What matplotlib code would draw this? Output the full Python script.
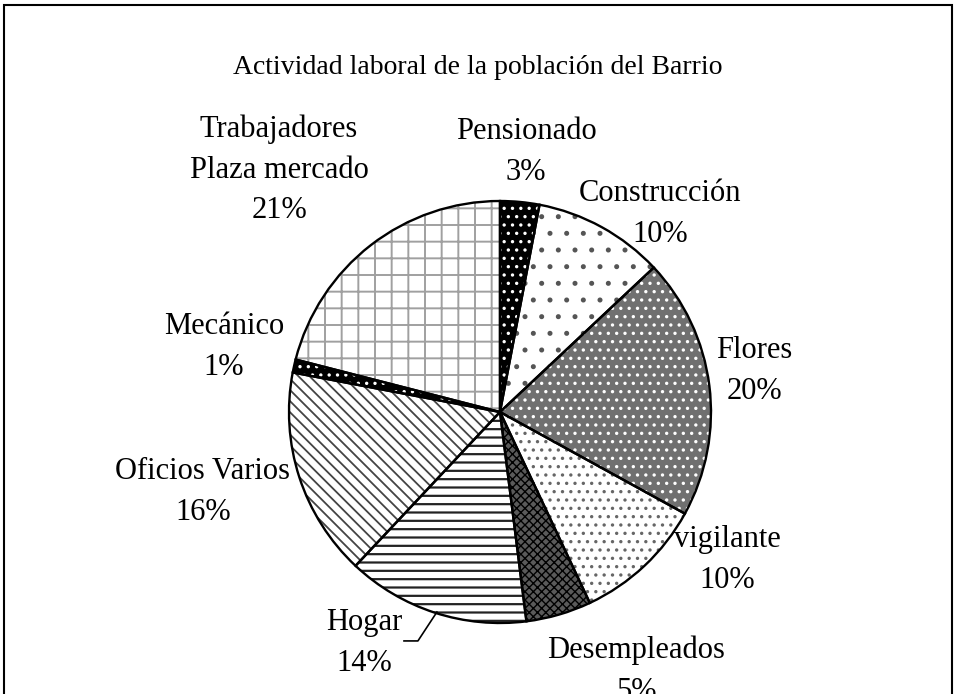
import numpy as np
import matplotlib.pyplot as plt
from matplotlib.patches import Rectangle

plt.rcParams['font.family'] = ['Liberation Serif', 'DejaVu Serif']
plt.rcParams['hatch.linewidth'] = 1.2

# data, clockwise from 12 o'clock
labels = ["Pensionado", "Construcción", "Flores", "vigilante", "Desempleados",
          "Hogar", "Oficios Varios", "Mecánico", "Trabajadores\nPlaza mercado"]
percent = [3, 10, 20, 10, 5, 14, 16, 1, 21]

# fill styles: face colour, hatch, hatch colour, hatch width
faces = ["black", "white", "#707070", "white", "#5a5a5a", "white", "white", "black", "white"]
hatches = ["..", ".", "..", "..", "xxxx", "--", "\\\\\\", "..", "+"]
hatch_cols = ["white", "#555555", "white", "#666666", "black", "#222222", "#444444", "white", "#a0a0a0"]
hatch_lw = [1.2, 1.2, 1.2, 1.2, 1.0, 1.6, 1.3, 1.2, 1.4]

# label positions (axes data units, pie radius = 1)
label_pos = [(0.123, 1.232), (0.758, 0.938), (1.204, 0.194), (1.076, -0.701),
             (0.645, -1.227), (-0.645, -1.095), (-1.408, -0.379), (-1.308, 0.308),
             (-1.047, 1.147)]

fig = plt.figure(figsize=(9.58, 6.94), dpi=100)
ax = fig.add_axes([289 / 958, (694 - 412 - 211) / 694, 422 / 958, 422 / 694])

# hatched fills
wedges, _ = ax.pie(percent, startangle=90, counterclock=False, radius=1,
                   wedgeprops=dict(linewidth=0))
for w, fc, h, hc, hl in zip(wedges, faces, hatches, hatch_cols, hatch_lw):
    w.set_facecolor(fc)
    w.set_edgecolor(hc)
    w.set_hatch(h)
    if hasattr(w, "set_hatch_linewidth"):
        w.set_hatch_linewidth(hl)
    else:
        w._hatch_linewidth = hl

# outlines
ax.pie(percent, startangle=90, counterclock=False, radius=1,
       wedgeprops=dict(fill=False, edgecolor="black", linewidth=1.7))

ax.set_xlim(-1, 1)
ax.set_ylim(-1, 1)
ax.set_aspect("equal")

for lab, p, (x, y) in zip(labels, percent, label_pos):
    ax.text(x, y, f"{lab}\n{p}%", ha="center", va="center", fontsize=22,
            clip_on=False, linespacing=1.52)

# leader line for Hogar
ax.plot([-0.299, -0.389, -0.455], [-0.948, -1.085, -1.085],
        color="black", lw=1.2, clip_on=False)

fig.text(478 / 958, 1 - 68 / 694, "Actividad laboral de la población del Barrio",
         ha="center", va="center", fontsize=20)

fig.patches.append(Rectangle((4 / 958, -0.1), 948 / 958, 1.1 - 5 / 694,
                             transform=fig.transFigure, fill=False,
                             edgecolor="black", linewidth=1.5))

fig.savefig("out.png", dpi=100)
